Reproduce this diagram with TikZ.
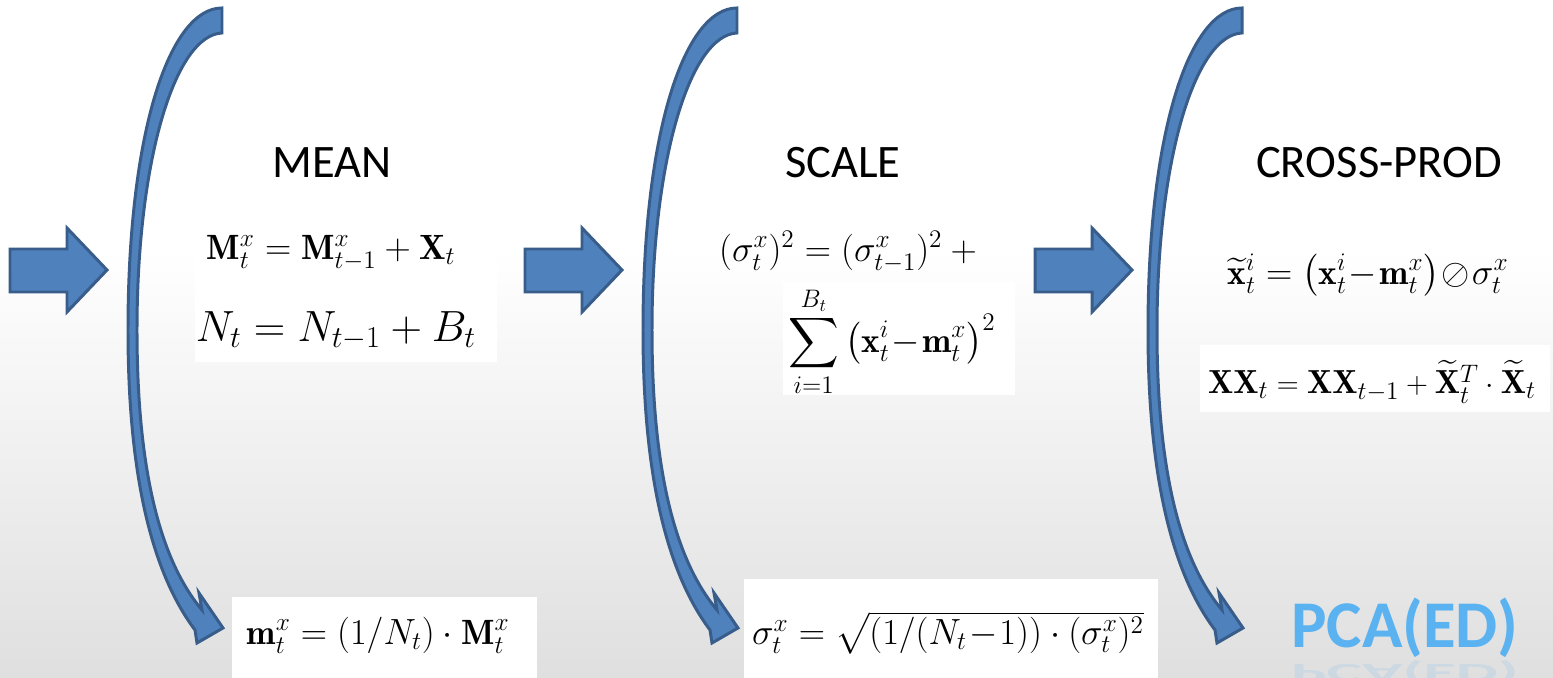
\documentclass[tikz,border=0pt]{standalone}
\usepackage{amsmath,amssymb}
\usepackage{fontspec}
\setsansfont{Carlito}
\definecolor{arrowfill}{HTML}{4F81BD}
\definecolor{arrowline}{HTML}{385D8A}
\definecolor{pcablue}{HTML}{5BB2F0}

\begin{document}
\begin{tikzpicture}[x=0.02cm, y=-0.02cm]
  \tikzset{
    block_arrow/.style={fill=arrowfill, draw=arrowline, line width=1.7pt},
    title/.style={font=\sffamily\fontsize{26.5}{30}\selectfont, inner sep=0pt},
    formula/.style={font=\fontsize{20}{24}\selectfont, inner sep=0pt},
    white_box/.style={fill=white, draw=none},
    pca_text/.style={font=\sffamily\bfseries\fontsize{38}{42}\selectfont, text=pcablue, inner sep=0pt}
  }

  % Fondo con degradado
  \useasboundingbox (0,0) rectangle (1553,678);
  \fill[white] (0,0) rectangle (1553,678);
  \shade[top color=white, bottom color=gray!25] (0,250) rectangle (1553,678);

  % Cajas blancas de las fórmulas
  \fill[white_box] (195,220) rectangle (497,362);
  \fill[white_box] (232,597) rectangle (537,678);
  \fill[white_box] (783,282) rectangle (1015,395);
  \fill[white_box] (744,579) rectangle (1158,678);
  \fill[white_box] (1200,345) rectangle (1550,412);

  % Flechas rectas de entrada
  \foreach \dx in {0,515,1025}{
    \begin{scope}[shift={(\dx,0)}]
      \filldraw[block_arrow] (10,249) -- (67,249) -- (67,228) -- (107,270)
        -- (67,312) -- (67,292) -- (10,292) -- cycle;
    \end{scope}
  }

  % Flechas curvas de cada etapa
  \foreach \dx in {0,515,1020}{
    \begin{scope}[shift={(\dx,0)}]
      \filldraw[block_arrow] (222,8) .. controls (170,8) and (128,130) .. (128,330)
        .. controls (128,470) and (150,570) .. (195,630)
        -- (197,643) -- (223,628) -- (199,593) -- (202,610)
        .. controls (160,560) and (137,470) .. (137,330)
        .. controls (137,160) and (175,35) .. (222,33) -- cycle;
    \end{scope}
  }

  % Títulos de las etapas
  \node[title] (mean) at (332,163) {MEAN};
  \node[title] (scale) at (843,163) {SCALE};
  \node[title] (cross) at (1379,163) {CROSS-PROD};

  % Etapa MEAN
  \node[formula] (eqM) at (331,253) {$\mathbf{M}_t^x = \mathbf{M}_{t-1}^x + \mathbf{X}_t$};
  \node[formula, font=\fontsize{23}{27}\selectfont] (eqN) at (336,331) {$N_t = N_{t-1} + B_t$};
  \node[formula] (eqm) at (378,635) {$\mathbf{m}_t^x = (1/N_t)\cdot\mathbf{M}_t^x$};

  % Etapa SCALE
  \node[formula] (eqS1) at (852,252) {$(\sigma_t^x)^2 = (\sigma_{t-1}^x)^2 +{}$};
  \node[formula] (eqS2) at (892,342) {$\displaystyle\sum_{i=1}^{B_t}\left(\mathbf{x}_t^i\!-\!\mathbf{m}_t^x\right)^2$};
  \node[formula, font=\fontsize{19.5}{23}\selectfont] (eqs) at (948,633) {$\sigma_t^x = \sqrt{(1/(N_t\!-\!1))\cdot(\sigma_t^x)^2}$};

  % Etapa CROSS-PROD
  \node[formula] (eqX1) at (1368,275) {$\widetilde{\mathbf{x}}_t^i = \left(\mathbf{x}_t^i\!-\!\mathbf{m}_t^x\right)\!\oslash\!\sigma_t^x$};
  \node[formula, font=\fontsize{19}{23}\selectfont] (eqX2) at (1372,382) {$\mathbf{XX}_t = \mathbf{XX}_{t-1} + \widetilde{\mathbf{X}}_t^T\cdot\widetilde{\mathbf{X}}_t$};

  % Resultado final
  \node[pca_text] (pca) at (1405,628) {PCA(ED)};
  \node[pca_text, yscale=-0.4, opacity=0.15, anchor=south] (pcaref) at ([yshift=-1pt]pca.south) {PCA(ED)};
\end{tikzpicture}
\end{document}
